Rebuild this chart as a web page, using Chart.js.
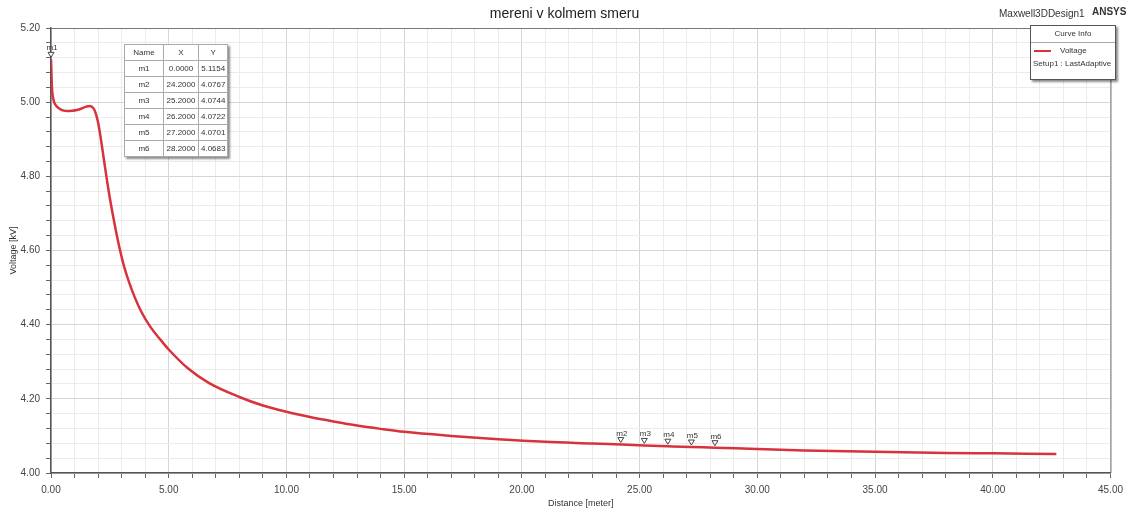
<!DOCTYPE html>
<html>
<head>
<meta charset="utf-8">
<script src="https://cdn.jsdelivr.net/npm/chart.js@4"></script>
<style>
	body { margin: 0; background: #fff; font-family: "Liberation Sans", Arial, sans-serif; }
	#wrap { position: relative; width: 1129px; height: 510px; }
	#title { position: absolute; left: 0; top: 5px; width: 1129px; text-align: center; font-size: 14px; color: #222; }
	#design { position: absolute; left: 999px; top: 8px; font-size: 10px; color: #333; }
	#ansys { position: absolute; left: 1092px; top: 6px; font-size: 10px; font-weight: bold; color: #333; }
	#markerTable { position: absolute; left: 124px; top: 44px; border-collapse: collapse; background: #fff;
		border: 1px solid #555; box-shadow: 2px 2px 2px rgba(0,0,0,0.45); font-size: 8px; color: #333; }
	#markerTable td { border: 1px solid #aaa; height: 15px; padding: 0 2px; text-align: center; }
	#legendBox { position: absolute; left: 1030px; top: 25px; width: 84px; height: 53px; background: #fff;
		border: 1px solid #555; box-shadow: 2px 2px 2px rgba(0,0,0,0.45); font-size: 8px; color: #333; }
	#legendBox .head { height: 16px; line-height: 16px; text-align: center; border-bottom: 1px solid #aaa; }
	#legendBox .swatch { position: absolute; left: 3px; top: 24px; width: 17px; height: 2px; background: #d8323c; }
	#legendBox .name { position: absolute; left: 29px; top: 20px; }
	#legendBox .setup { position: absolute; left: 2px; top: 33px; white-space: nowrap; }
</style>
</head>
<body>
<div id="wrap">
	<canvas id="chart" width="1129" height="510"></canvas>
	<div id="title">mereni v kolmem smeru</div>
	<div id="design">Maxwell3DDesign1</div>
	<div id="ansys">ANSYS</div>
	<table id="markerTable"></table>
	<div id="legendBox">
		<div class="head">Curve Info</div>
		<div class="swatch"></div>
		<div class="name">Voltage</div>
		<div class="setup">Setup1 : LastAdaptive</div>
	</div>
</div>
<script>
// curve
const distance = [0, 0.04, 0.1, 0.2, 0.35, 0.5, 0.7, 0.9, 1.1, 1.3, 1.5, 1.65, 1.8, 1.9, 2.0, 2.1, 2.2, 2.3, 2.4,
	2.5, 2.6, 2.75, 2.92, 3.1, 3.33, 3.55, 3.82, 4.2, 4.68, 5.0, 5.8, 6.7, 8.0, 9.0, 10, 11, 12, 13, 14, 15, 17, 19,
	21, 23, 24.2, 25.2, 26.2, 27.2, 28.2, 30, 32, 35, 38, 40, 42.7];
const voltage = [5.1154, 5.04, 5.008, 4.992, 4.983, 4.978, 4.976, 4.977, 4.979, 4.983, 4.988, 4.990, 4.984, 4.970,
	4.945, 4.908, 4.866, 4.822, 4.780, 4.741, 4.705, 4.655, 4.604, 4.558, 4.512, 4.475, 4.437, 4.396, 4.357, 4.333,
	4.283, 4.243, 4.205, 4.182, 4.165, 4.151, 4.139, 4.128, 4.119, 4.111, 4.100, 4.091, 4.084, 4.0795,
	4.0767, 4.0744, 4.0722, 4.0701, 4.0683, 4.0645, 4.061, 4.057, 4.054, 4.053, 4.0515];

// marker table
const markerNames = ["m1", "m2", "m3", "m4", "m5", "m6"];
const markerX = [0.0, 24.2, 25.2, 26.2, 27.2, 28.2];
const markerY = [5.1154, 4.0767, 4.0744, 4.0722, 4.0701, 4.0683];

const xLabelStep = 5;
const yLabelStep = 0.2;

// fill the marker table
const table = document.getElementById("markerTable");
let rows = '<tr><td style="width:34px">Name</td><td style="width:30px">X</td><td style="width:24px">Y</td></tr>';
markerNames.forEach((n, i) => {
	rows += `<tr><td>${n}</td><td>${markerX[i].toFixed(4)}</td><td>${markerY[i].toFixed(4)}</td></tr>`;
});
table.innerHTML = rows;

// plot frame + marker triangles
const markerPlugin = {
	id: "markers",
	beforeDatasetsDraw(chart) {
		const { ctx, chartArea } = chart;
		ctx.save();
		ctx.strokeStyle = "#777";
		ctx.lineWidth = 1;
		ctx.beginPath();
		ctx.moveTo(chartArea.left, chartArea.top + 0.5);
		ctx.lineTo(chartArea.right + 0.5, chartArea.top + 0.5);
		ctx.lineTo(chartArea.right + 0.5, chartArea.bottom);
		ctx.stroke();
		ctx.restore();
	},
	afterDatasetsDraw(chart) {
		const { ctx, scales } = chart;
		ctx.save();
		ctx.font = "8px 'Liberation Sans', Arial, sans-serif";
		ctx.textAlign = "center";
		ctx.fillStyle = "#333";
		markerNames.forEach((name, i) => {
			const px = scales.x.getPixelForValue(markerX[i]);
			const py = scales.y.getPixelForValue(markerY[i]);
			ctx.beginPath();
			ctx.moveTo(px - 3, py - 7);
			ctx.lineTo(px + 3, py - 7);
			ctx.lineTo(px, py - 2);
			ctx.closePath();
			ctx.fillStyle = "#fff";
			ctx.fill();
			ctx.strokeStyle = "#444";
			ctx.stroke();
			ctx.fillStyle = "#333";
			ctx.fillText(name, px + 1, py - 9);
		});
		ctx.restore();
	},
};

const isMajorX = (v) => Math.abs(v / xLabelStep - Math.round(v / xLabelStep)) < 1e-6;
const isMajorY = (v) => Math.abs(v / yLabelStep - Math.round(v / yLabelStep)) < 1e-6;
const tickFont = { family: "'Liberation Sans', Arial, sans-serif", size: 10 };

new Chart(document.getElementById("chart").getContext("2d"), {
	type: "line",
	data: {
		datasets: [{
			label: "Voltage",
			data: distance.map((d, i) => ({ x: d, y: voltage[i] })),
			borderColor: "#d8323c",
			borderWidth: 2.5,
			pointRadius: 0,
			cubicInterpolationMode: "monotone",
			fill: false,
		}],
	},
	options: {
		responsive: false,
		animation: false,
		layout: { padding: { top: 28, right: 15, left: 0, bottom: 0 } },
		plugins: { legend: { display: false }, tooltip: { enabled: false } },
		scales: {
			x: {
				type: "linear",
				min: 0,
				max: 45,
				ticks: {
					stepSize: 1,
					autoSkip: false,
					maxRotation: 0,
					padding: 6,
					color: "#444",
					font: tickFont,
					callback: (v) => (isMajorX(v) ? v.toFixed(2) : ""),
				},
				grid: {
					color: (c) => (isMajorX(c.tick.value) ? "#d6d6d6" : "#ebebeb"),
					tickColor: "#666",
					tickLength: 5,
				},
				border: { color: "#555", width: 1.5 },
				title: { display: true, text: "Distance [meter]", color: "#333", font: { family: tickFont.family, size: 9 }, padding: { top: 5, bottom: 1 } },
				afterFit(scale) { scale.height = 37; },
			},
			y: {
				min: 4.0,
				max: 5.2,
				ticks: {
					stepSize: 0.04,
					autoSkip: false,
					padding: 6,
					color: "#444",
					font: tickFont,
					callback: (v) => (isMajorY(v) ? v.toFixed(2) : ""),
				},
				grid: {
					color: (c) => (isMajorY(c.tick.value) ? "#d6d6d6" : "#ebebeb"),
					tickColor: "#666",
					tickLength: 5,
				},
				border: { color: "#555", width: 1.5 },
				title: { display: true, text: "Voltage [kV]", color: "#333", font: { family: tickFont.family, size: 9 }, padding: { top: 8, bottom: 0 } },
				afterFit(scale) { scale.width = 51; },
			},
		},
	},
	plugins: [markerPlugin],
});
</script>
</body>
</html>
